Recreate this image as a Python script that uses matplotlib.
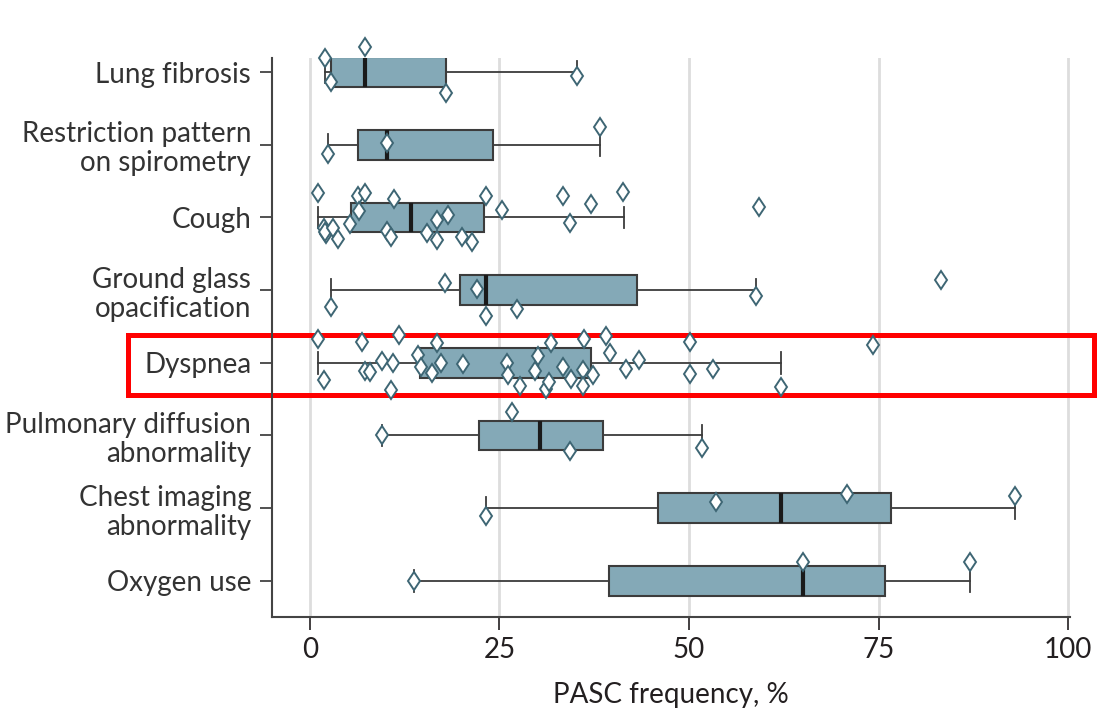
import matplotlib
matplotlib.use('Agg')
import matplotlib.pyplot as plt
import numpy as np

plt.rcParams['font.family'] = ['Lato', 'DejaVu Sans']

categories = ['Lung fibrosis', 'Restriction pattern\non spirometry', 'Cough',
              'Ground glass\nopacification', 'Dyspnea',
              'Pulmonary diffusion\nabnormality', 'Chest imaging\nabnormality',
              'Oxygen use']

# box stats: whisker low, q1, median, q3, whisker high
whislo = [2.0, 2.4, 1.0, 2.8, 1.1, 9.5, 23.2, 13.7]
q1 = [2.8, 6.3, 5.4, 19.8, 14.5, 22.3, 45.9, 39.4]
med = [7.2, 10.2, 13.3, 23.2, 29.9, 30.4, 62.1, 65.0]
q3 = [17.9, 24.2, 22.9, 43.2, 37.1, 38.6, 76.6, 75.9]
whishi = [35.2, 38.2, 41.4, 58.9, 62.1, 51.7, 93.0, 87.1]

# individual study values and their vertical jitter
pts_lung = [2.0, 7.2, 2.8, 17.9, 35.2]
jit_lung = [-0.2, -0.34, 0.13, 0.29, 0.05]
pts_restr = [2.4, 10.2, 38.2]
jit_restr = [0.13, -0.03, -0.25]
pts_cough = [1.0, 6.3, 7.3, 6.5, 11.1, 5.3, 1.9, 2.1, 2.0, 3.0, 3.7, 10.2, 10.7,
             15.5, 16.7, 18.2, 16.8, 20.1, 21.4, 23.2, 25.3, 33.4, 34.3, 37.1,
             41.3, 59.2]
jit_cough = [-0.34, -0.29, -0.34, -0.09, -0.25, 0.09, 0.14, 0.23, 0.2, 0.15, 0.29,
             0.18, 0.27, 0.21, 0.03, -0.03, 0.31, 0.27, 0.34, -0.3, -0.1, -0.3,
             0.07, -0.19, -0.35, -0.14]
pts_ggo = [2.8, 17.8, 22.0, 27.3, 23.2, 58.9, 83.2]
jit_ggo = [0.23, -0.1, -0.02, 0.26, 0.36, 0.08, -0.14]
pts_dysp = [1.1, 6.9, 11.7, 16.8, 1.9, 7.3, 7.9, 9.5, 10.9, 10.7, 14.2, 14.7, 16.1,
            17.3, 20.2, 26.0, 26.1, 27.7, 30.1, 29.7, 31.2, 31.5, 31.8, 33.4,
            34.4, 36.0, 36.0, 36.1, 37.4, 39.1, 39.6, 41.7, 43.4, 50.1, 50.1,
            53.1, 62.1, 74.3]
jit_dysp = [-0.33, -0.28, -0.38, -0.27, 0.23, 0.11, 0.13, -0.03, 0.0, 0.37, -0.11,
            0.06, 0.14, 0.0, 0.02, 0.0, 0.17, 0.32, -0.1, 0.11, 0.36, 0.27, -0.27,
            0.06, 0.22, 0.1, 0.32, -0.33, 0.17, -0.37, -0.14, 0.08, -0.04, -0.29,
            0.15, 0.08, 0.33, -0.24]
pts_diff = [9.5, 26.6, 34.3, 51.7]
jit_diff = [0.0, -0.32, 0.21, 0.17]
pts_chest = [23.2, 53.5, 70.9, 93.0]
jit_chest = [0.11, -0.09, -0.2, -0.17]
pts_oxy = [13.7, 65.0, 87.1]
jit_oxy = [0.0, -0.26, -0.26]

points = [pts_lung, pts_restr, pts_cough, pts_ggo, pts_dysp, pts_diff, pts_chest, pts_oxy]
jitter = [jit_lung, jit_restr, jit_cough, jit_ggo, jit_dysp, jit_diff, jit_chest, jit_oxy]

fig = plt.figure(figsize=(10.97, 7.11), dpi=100)
ax = fig.add_axes([0.248, 0.132, 0.727, 0.786])

pos = np.arange(len(categories))
stats = []
for i in range(len(categories)):
    stats.append(dict(whislo=whislo[i], q1=q1[i], med=med[i], q3=q3[i],
                      whishi=whishi[i], fliers=[]))

ax.bxp(stats, positions=pos, vert=False, widths=0.41, capwidths=0.3,
       patch_artist=True, showfliers=False,
       boxprops=dict(facecolor='#84a9b7', edgecolor='#3c3c3c', linewidth=1.5),
       medianprops=dict(color='#1a1a1a', linewidth=3),
       whiskerprops=dict(color='#3c3c3c', linewidth=1.3),
       capprops=dict(color='#3c3c3c', linewidth=1.3))

for i in range(len(categories)):
    ax.plot(points[i], pos[i] + np.array(jitter[i]), linestyle='none', marker='d',
            markersize=9.5, markerfacecolor='white', markeredgecolor='#3e6674',
            markeredgewidth=1.4, zorder=5, clip_on=False)

ax.set_ylim(7.5, -0.19)
ax.set_xlim(-5, 100.2)
ax.set_yticks(pos)
ax.set_yticklabels(categories, fontsize=20, color='#231f20', linespacing=1.15)
ax.set_xticks([0, 25, 50, 75, 100])
ax.tick_params(axis='x', labelsize=20, length=9, width=1.2, colors='#231f20', pad=5)
ax.tick_params(axis='y', length=9, width=1.2, colors='#333333', pad=6)
ax.set_xlabel('PASC frequency, %', fontsize=20, color='#231f20', labelpad=14)

ax.grid(axis='x', color='#dddddd', linewidth=2)
ax.set_axisbelow(True)
for s in ['top', 'right']:
    ax.spines[s].set_visible(False)
for s in ['left', 'bottom']:
    ax.spines[s].set_color('#444444')
    ax.spines[s].set_linewidth(1.5)

# highlight box around the Dyspnea row
ax.add_patch(plt.Rectangle((0.117, 0.445), 0.88, 0.084, transform=fig.transFigure,
                           fill=False, edgecolor='#ff0000', linewidth=3.6,
                           clip_on=False))

plt.savefig('out.png', dpi=100)
